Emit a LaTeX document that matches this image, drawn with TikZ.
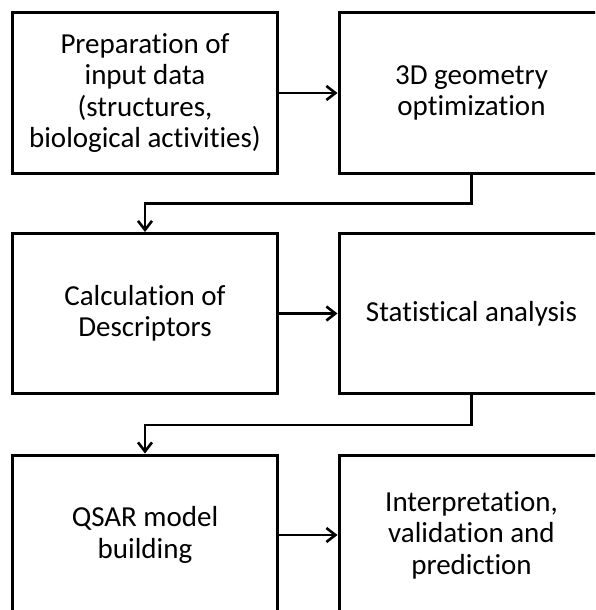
\documentclass[tikz,border=0pt]{standalone}
\usepackage{fontspec}
\setmainfont{Carlito}[Ligatures=NoCommon]
\usetikzlibrary{arrows.meta}
\begin{document}
\begin{tikzpicture}[x=1pt,y=-1pt,
 stepbox/.style={draw,line width=3pt,minimum width=265pt,minimum height=160pt,align=center,font=\fontsize{29}{31.5}\selectfont,inner sep=0pt},
 conn/.style={line width=2.3pt,-{Straight Barb[length=9pt,width=14pt,line width=2.6pt]}}]
\clip (0,0) rectangle (595,610);
\node[stepbox] (a) at (145,93) {Preparation of\\input data\\(structures,\\biological activities)};
\node[stepbox] (b) at (471.5,93) {3D geometry\\optimization};
\node[stepbox] (c) at (145,313.5) {Calculation of\\Descriptors};
\node[stepbox] (d) at (471.5,313.5) {Statistical analysis};
\node[stepbox] (e) at (145,535) {QSAR model\\building};
\node[stepbox] (f) at (471.5,535) {Interpretation,\\validation and\\prediction};
\draw[conn] (a.east) -- (b.west);
\draw[conn] (c.east) -- (d.west);
\draw[conn] (e.east) -- (f.west);
\draw[conn] (b.south) -- ++(0,29) -| (c.north);
\draw[conn] (d.south) -- ++(0,30) -| (e.north);
\end{tikzpicture}
\end{document}
